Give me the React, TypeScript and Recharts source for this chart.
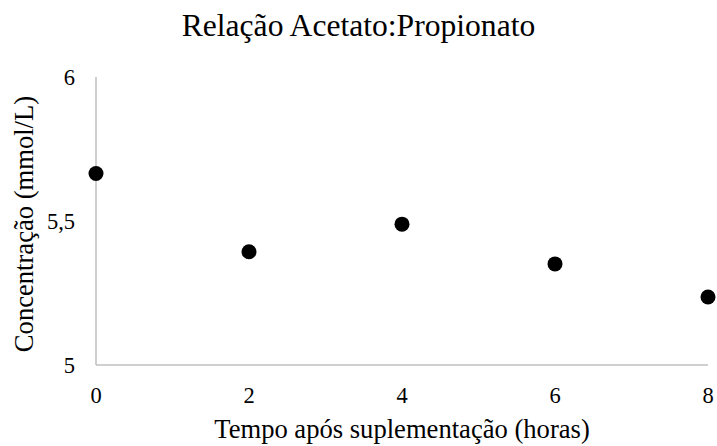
import { ScatterChart, Scatter, XAxis, YAxis } from "recharts";

const hours = [0, 2, 4, 6, 8];
const ratio = [5.665, 5.393, 5.489, 5.351, 5.236];
const yTicks = [5, 5.5, 6];

const data = hours.map((h, i) => ({ h, v: ratio[i] }));

const FONT = '"Liberation Serif", "Times New Roman", serif';
const AXIS = "#bfbfbf";

export default function App() {
  return (
    <div style={{ position: "absolute", left: 0, top: 0, width: 717, height: 446, background: "#fff", fontFamily: FONT }}>
      <div
        style={{
          position: "absolute",
          top: 10,
          width: 717,
          textAlign: "center",
          fontSize: 31.6,
          color: "#000",
          lineHeight: "32px",
          fontFamily: FONT,
        }}
      >
        Relação Acetato:Propionato
      </div>
      <ScatterChart width={717} height={446} margin={{ top: 77, right: 9, bottom: 0, left: 0 }}>
        <XAxis
          type="number"
          dataKey="h"
          domain={[0, 8]}
          ticks={hours}
          tickLine={false}
          axisLine={{ stroke: AXIS, strokeWidth: 1.5 }}
          tick={{ fill: "#000", fontSize: 22.5, fontFamily: FONT }}
          tickMargin={16}
          height={81}
          label={{
            value: "Tempo após suplementação (horas)",
            position: "insideBottom",
            offset: 8,
            fill: "#000",
            fontSize: 26.6,
            fontFamily: FONT,
          }}
        />
        <YAxis
          type="number"
          dataKey="v"
          domain={[5, 6]}
          ticks={yTicks}
          tickFormatter={(v: number) => String(v).replace(".", ",")}
          tickLine={false}
          axisLine={{ stroke: AXIS, strokeWidth: 1.5 }}
          tick={{ fill: "#000", fontSize: 22.5, fontFamily: FONT }}
          tickMargin={15}
          width={96}
          label={{
            value: "Concentração (mmol/L)",
            angle: -90,
            position: "center",
            dx: -24.5,
            dy: 3,
            fill: "#000",
            fontSize: 26.6,
            fontFamily: FONT,
          }}
        />
        <Scatter data={data} fill="#000" isAnimationActive={false} shape={(p: any) => <circle cx={p.cx} cy={p.cy} r={7.5} fill="#000" />} />
      </ScatterChart>
    </div>
  );
}
